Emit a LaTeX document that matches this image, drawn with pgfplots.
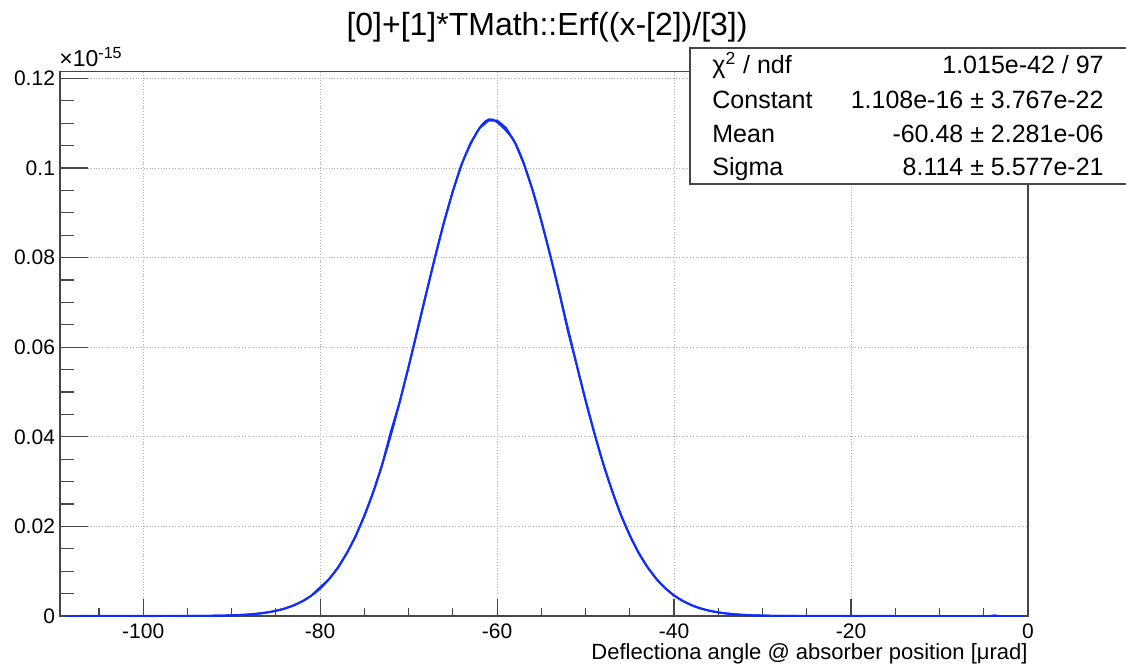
\documentclass[border=0pt]{standalone}
\usepackage{fontspec}
\setmainfont{Liberation Sans}
\usepackage{pgfplots}
\pgfplotsset{compat=1.18}
\definecolor{rootblue}{RGB}{15,45,255}
\definecolor{framegray}{RGB}{70,70,70}
\begin{document}
\begin{tikzpicture}
\path[use as bounding box] (0pt,0pt) rectangle (563pt,335.5pt);
\begin{axis}[
  at={(30pt,27.5pt)}, anchor=south west,
  scale only axis, width=484pt, height=272.15pt,
  xmin=-109.4, xmax=0, ymin=0, ymax=0.1215,
  axis line style={framegray, line width=0.6pt},
  xtick={-100,-80,-60,-40,-20,0},
  xticklabels={-100,-80,-60,-40,-20,0},
  ytick={0,0.02,0.04,0.06,0.08,0.1,0.12},
  yticklabels={0,0.02,0.04,0.06,0.08,0.1,0.12},
  minor xtick={-105,-95,-90,-85,-75,-70,-65,-55,-50,-45,-35,-30,-25,-15,-10,-5},
  minor ytick={0.005,0.01,0.015,0.025,0.03,0.035,0.045,0.05,0.055,0.065,0.07,0.075,0.085,0.09,0.095,0.105,0.11,0.115},
  xtick pos=left, ytick pos=left, tick align=inside,
  xtick style={framegray, line width=0.6pt, /pgfplots/major tick length=8.5pt, /pgfplots/minor tick length=4pt},
  ytick style={framegray, line width=0.6pt, /pgfplots/major tick length=14pt, /pgfplots/minor tick length=7pt},
  grid=major,
  major grid style={gray!60, densely dotted, line width=0.5pt},
  tick label style={font=\fontsize{10.5}{12}\selectfont, text=black},
  xticklabel style={yshift=-0.5pt},
  yticklabel style={xshift=1pt},
]
% histogram (data) polyline
\addplot[rootblue, line width=1pt] coordinates {
(-108.8,0) (-95,0) (-93,0.00003) (-92,0.00006) (-91,0.00009) (-90,0.00015)
(-89,0.00023) (-88,0.00035) (-87,0.00053) (-86,0.00079) (-85,0.00115)
(-84,0.00166) (-83,0.00235) (-82,0.00329) (-81,0.00452) (-80,0.0064)
(-79,0.00819) (-78,0.01077) (-77,0.01395) (-76,0.01779) (-75,0.02235)
(-74,0.02765) (-73,0.03369) (-72,0.0412) (-71,0.04781) (-70,0.05566)
(-69,0.06384) (-68,0.07211) (-67,0.08023) (-66,0.08791) (-65,0.09488)
(-64,0.10085) (-63,0.10558) (-62,0.10887) (-61,0.11057) (-60,0.11061)
(-59,0.10897) (-58,0.10575) (-57,0.10106) (-56,0.09513) (-55,0.08821)
(-54,0.08055) (-53,0.07245) (-52,0.0636) (-51,0.05599) (-50,0.04811)
(-49,0.04073) (-48,0.03395) (-47,0.02788) (-46,0.02254) (-45,0.01796)
(-44,0.01408) (-43,0.01088) (-42,0.00828) (-41,0.00621) (-40,0.00458)
(-39,0.00333) (-38,0.00239) (-37,0.00168) (-36,0.00117) (-35,0.0008)
(-34,0.00054) (-33,0.00036) (-32,0.00023) (-31,0.00015) (-30,0.0001)
(-29,0.00005) (-28,0.00003) (-26,0) (-4.3,0) (-3.8,0.00015) (-3.3,0) (-0.6,0)
};
% fit curve
\addplot[rootblue, line width=1pt, smooth] coordinates {
(-108.8,0) (-96,0.00001) (-92,0.00006) (-90,0.00015) (-88,0.00035)
(-86,0.00079) (-84,0.00166) (-82,0.00329) (-80,0.00613) (-78,0.01077)
(-76,0.01779) (-74,0.02765) (-72,0.04044) (-70,0.05566) (-68,0.07211)
(-66,0.08791) (-64,0.10085) (-62,0.10887) (-60.48,0.1108) (-58,0.10575)
(-56,0.09513) (-54,0.08055) (-52,0.06418) (-50,0.04811) (-48,0.03395)
(-46,0.02254) (-44,0.01408) (-42,0.00828) (-40,0.00458) (-38,0.00239)
(-36,0.00117) (-34,0.00054) (-32,0.00023) (-30,0.0001) (-26,0.00001) (-0.6,0)
};
\end{axis}
% title
\node[anchor=base, font=\fontsize{16}{19}\selectfont] at (273.5pt,317.5pt) {[0]+[1]*TMath::Erf((x-[2])/[3])};
% exponent
\node[anchor=base west, inner sep=0pt, font=\fontsize{11.5}{13}\selectfont] at (29.5pt,302pt) {×10\textsuperscript{-15}};
% x label
\node[anchor=base east, inner sep=0pt, font=\fontsize{11}{13}\selectfont] at (514pt,6pt) {Deflectiona angle @ absorber position [μrad]};
% stats box
\draw[framegray, line width=0.6pt, fill=white] (345pt,243.5pt) rectangle (565pt,311.5pt);
\begin{scope}[every node/.style={inner sep=0pt, font=\fontsize{12.5}{15}\selectfont}]
\node[anchor=mid west] at (356pt,301.5pt) {χ\textsuperscript{2} / ndf};
\node[anchor=mid east] at (552pt,301.5pt) {1.015e-42 / 97};
\node[anchor=mid west] at (356pt,283.8pt) {Constant};
\node[anchor=mid east] at (552pt,283.8pt) {1.108e-16 ± 3.767e-22};
\node[anchor=mid west] at (356pt,267pt) {Mean};
\node[anchor=mid east] at (552pt,267pt) {-60.48 ± 2.281e-06};
\node[anchor=mid west] at (356pt,250.5pt) {Sigma};
\node[anchor=mid east] at (552pt,250.5pt) {8.114 ± 5.577e-21};
\end{scope}
\end{tikzpicture}
\end{document}
